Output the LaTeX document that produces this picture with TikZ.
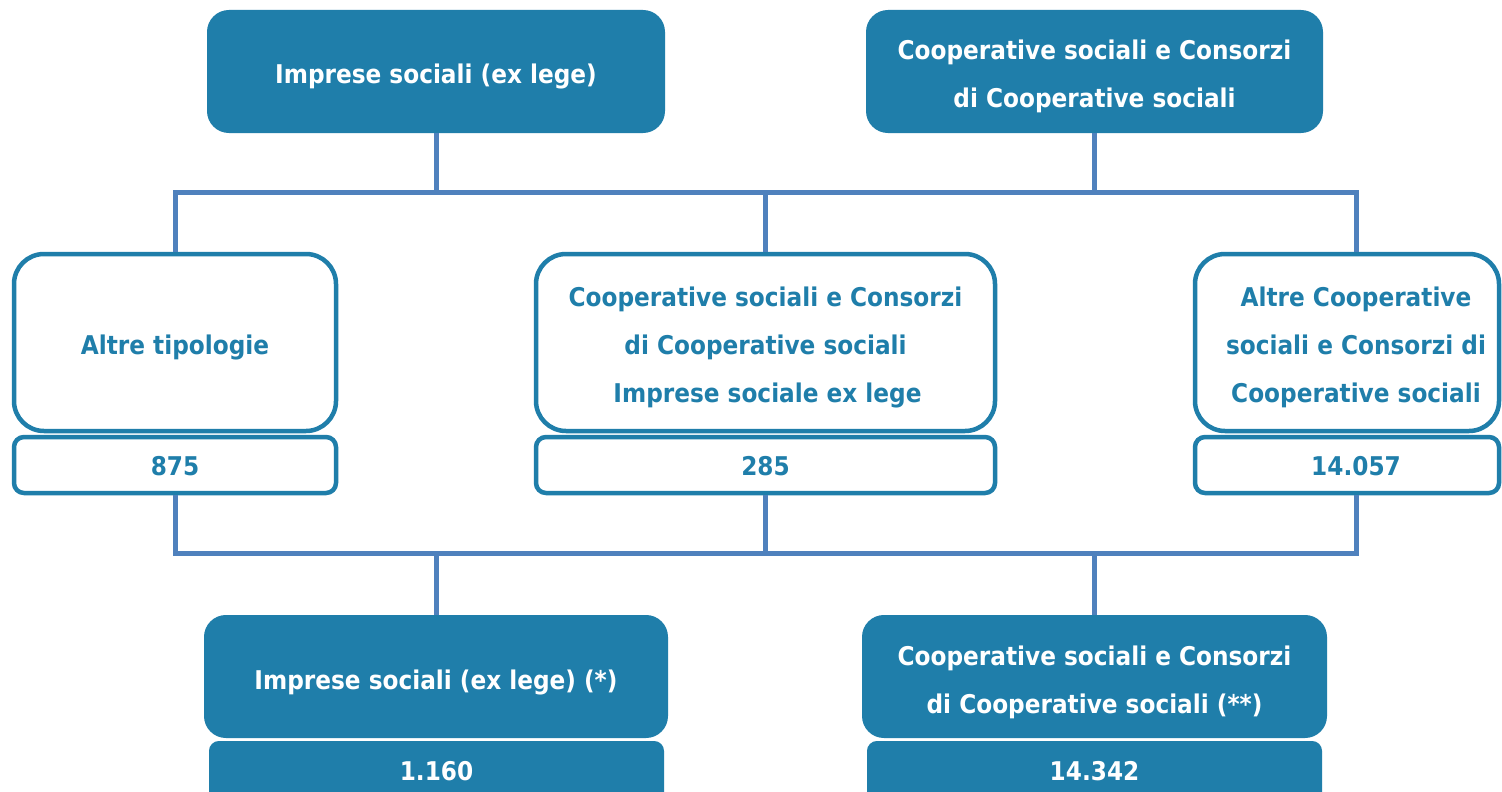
\documentclass[tikz,border=0pt]{standalone}
\usepackage{fontspec}
\setmainfont{DejaVu Sans}[FakeStretch=0.9]
\definecolor{boxblue}{RGB}{31,126,170}
\definecolor{linkblue}{RGB}{79,129,189}
\begin{document}
\begin{tikzpicture}[x=1pt,y=-1pt,
  txt/.style={font=\fontsize{25.8}{48}\selectfont\bfseries, align=center, inner sep=0pt},
  wtxt/.style={txt, text=white},
  btxt/.style={txt, text=boxblue},
  solidbox/.style={draw=boxblue, fill=boxblue, line width=4pt, rounded corners=20pt},
  whitebox/.style={draw=boxblue, fill=white, line width=4.5pt, rounded corners=30pt},
  numbox/.style={draw=boxblue, fill=white, line width=4.5pt, rounded corners=10pt},
  solidnum/.style={draw=boxblue, fill=boxblue, line width=4pt, rounded corners=8pt},
  conn/.style={draw=linkblue, line width=5pt}]
\useasboundingbox (0,0) rectangle (1502,792);
\clip (0,0) rectangle (1502,792);
\fill[white] (0,0) rectangle (1502,792);

% top boxes
\node[solidbox, minimum width=454pt, minimum height=119pt] (tl) at (436,71.5) {};
\node[wtxt, yshift=-5pt] (tlt) at (tl) {Imprese sociali (ex lege)};
\node[solidbox, minimum width=453pt, minimum height=119pt] (tr) at (1094.5,71.5) {};
\node[wtxt, yshift=-5pt] (trt) at (tr) {Cooperative sociali e Consorzi\\di Cooperative sociali};

% middle boxes
\node[whitebox, minimum width=322pt, minimum height=177pt] (ml) at (175,342.5) {};
\node[btxt, yshift=-5pt] (mlt) at (ml) {Altre tipologie};
\node[whitebox, minimum width=459pt, minimum height=177pt] (mm) at (765.5,342.5) {};
\node[btxt, yshift=-5pt] (mmt) at (mm) {Cooperative sociali e Consorzi\\di Cooperative sociali\\\hspace*{4pt}Imprese sociale ex lege};
\node[whitebox, minimum width=304pt, minimum height=177pt] (mr) at (1347,342.5) {};
\node[btxt] (mrt) at (1356,347.5) {Altre Cooperative\\sociali e Consorzi di\\Cooperative sociali};

% number boxes
\node[numbox, minimum width=322pt, minimum height=56pt] (nl) at (175,465) {};
\node[btxt, yshift=-1.5pt] (nlt) at (nl) {875};
\node[numbox, minimum width=459pt, minimum height=56pt] (nm) at (765.5,465) {};
\node[btxt, yshift=-1.5pt] (nmt) at (nm) {285};
\node[numbox, minimum width=304pt, minimum height=56pt] (nr) at (1347,465) {};
\node[btxt] (nrt) at (1356,466.5) {14.057};

% bottom boxes
\node[solidbox, minimum width=460pt, minimum height=119pt] (bl) at (436,676.5) {};
\node[wtxt, yshift=-5.5pt] (blt) at (bl) {Imprese sociali (ex lege) (*)};
\node[solidbox, minimum width=461pt, minimum height=119pt] (br) at (1094.5,676.5) {};
\node[wtxt, yshift=-5.5pt] (brt) at (br) {Cooperative sociali e Consorzi\\di Cooperative sociali (**)};
\node[solidnum, minimum width=451pt, minimum height=62pt] (bnl) at (436.5,774) {};
\node[wtxt, yshift=2.5pt] (bnlt) at (bnl) {1.160};
\node[solidnum, minimum width=451pt, minimum height=62pt] (bnr) at (1094.5,774) {};
\node[wtxt, yshift=2.5pt] (bnrt) at (bnr) {14.342};

% connectors
\coordinate (bus1) at (0,192);
\coordinate (bus2) at (0,553);
\coordinate (rc) at (1356,0);
\draw[conn] (tl.south) -- (tl.south|-bus1);
\draw[conn] (tr.south) -- (tr.south|-bus1);
\draw[conn] (ml.north) -- (ml.north|-bus1) -- (rc|-bus1) -- (rc|-mr.north);
\draw[conn] (mm.north) -- (mm.north|-bus1);
\draw[conn] (nl.south) -- (nl.south|-bus2) -- (rc|-bus2) -- (rc|-nr.south);
\draw[conn] (nm.south) -- (nm.south|-bus2);
\draw[conn] (bl.north) -- (bl.north|-bus2);
\draw[conn] (br.north) -- (br.north|-bus2);
\end{tikzpicture}
\end{document}
